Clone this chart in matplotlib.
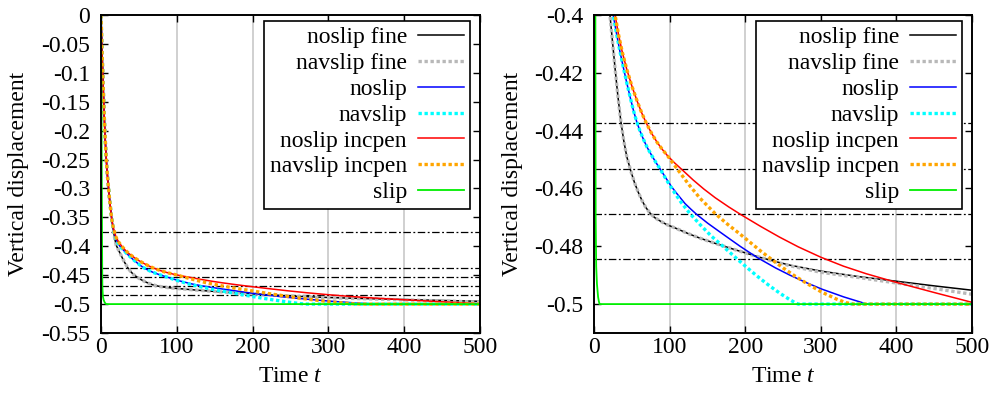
import matplotlib
matplotlib.use('Agg')
import matplotlib.pyplot as plt
from matplotlib.ticker import FixedLocator, FixedFormatter

plt.rcParams['font.family'] = ['Liberation Serif', 'DejaVu Serif']
plt.rcParams['mathtext.fontset'] = 'custom'
plt.rcParams['mathtext.rm'] = 'Liberation Serif'
plt.rcParams['mathtext.it'] = 'Liberation Serif:italic'
plt.rcParams['font.size'] = 17

# ---------------- data ----------------
# common initial drop (t <= 14) shared by the non-slip runs
head_t = [0, 1, 2, 3, 4, 5, 6, 7, 8, 9, 10, 11, 12, 13, 14]
head_y = [0, -0.045, -0.088, -0.128, -0.165, -0.198, -0.226, -0.25, -0.269, -0.286, -0.30,
          -0.315, -0.327, -0.34, -0.351]

noslip_fine_t = head_t + [15.5, 17, 18.5, 20, 24, 27.5, 31, 35, 39, 43, 48, 53, 58, 63, 68, 74, 80,
                          88, 96, 110, 125, 140, 160, 184, 200, 219, 240, 260, 300, 350, 400, 450, 500]
noslip_fine_y = head_y + [-0.365, -0.378, -0.389, -0.398, -0.409, -0.4185, -0.4275, -0.4365, -0.4435,
                          -0.449, -0.4537, -0.4578, -0.4612, -0.4641, -0.4665, -0.4686, -0.4701,
                          -0.4714, -0.4725, -0.474, -0.4757, -0.4772, -0.479, -0.481, -0.4823,
                          -0.4838, -0.4853, -0.4866, -0.4886, -0.4905, -0.4921, -0.4937, -0.4952]

navslip_fine_t = noslip_fine_t
navslip_fine_y = head_y + [-0.365, -0.378, -0.389, -0.398, -0.409, -0.4185, -0.4275, -0.4365, -0.4435,
                           -0.449, -0.4537, -0.4578, -0.4612, -0.4641, -0.4665, -0.4686, -0.4701,
                           -0.4714, -0.4725, -0.474, -0.4757, -0.4772, -0.479, -0.481, -0.4823,
                           -0.4838, -0.4854, -0.4868, -0.489, -0.4908, -0.4927, -0.4946, -0.4966]

noslip_t = head_t + [15.5, 17, 20, 22.5, 25, 29.6, 34, 38.5, 43, 48, 52, 56, 60, 65, 70, 76, 82, 87,
                     95, 102.5, 110, 120, 128, 135.6, 150, 166, 180, 193, 215, 240, 259, 280, 301,
                     330, 361, 500]
noslip_y = head_y + [-0.364, -0.374, -0.388, -0.395, -0.400, -0.4067, -0.4127, -0.4182, -0.4235,
                     -0.4290, -0.4332, -0.4368, -0.4398, -0.4430, -0.4458, -0.4486, -0.4512, -0.4532,
                     -0.4565, -0.4595, -0.4620, -0.4652, -0.4672, -0.4690, -0.4720, -0.4750,
                     -0.4776, -0.4800, -0.4838, -0.4875, -0.4900, -0.4925, -0.4948, -0.4975, -0.5, -0.5]

navslip_t = head_t + [15.5, 17, 20, 22.5, 25, 29.6, 34, 38.5, 43, 48, 52, 56, 60, 65, 70, 76, 82, 87,
                      95, 105, 116, 127, 140, 155, 169, 181, 193, 205, 215, 228, 240, 250, 259, 265,
                      270, 500]
navslip_y = head_y + [-0.364, -0.374, -0.388, -0.395, -0.400, -0.4067, -0.4127, -0.4182, -0.4235,
                      -0.4290, -0.4332, -0.4368, -0.4398, -0.4430, -0.4458, -0.4486, -0.4512, -0.4532,
                      -0.4568, -0.4610, -0.4652, -0.4688, -0.4725, -0.4765, -0.4797, -0.4825,
                      -0.4853, -0.4880, -0.4902, -0.4929, -0.4952, -0.4970, -0.4985, -0.4994, -0.5, -0.5]

noslip_incpen_t = head_t + [15.5, 17, 20, 24, 27.5, 32, 37, 43, 50, 57, 63, 69, 76, 83, 90, 97, 106,
                            115.7, 131, 145, 160, 178, 195, 220, 245, 270, 300, 330, 360, 400, 450, 500]
noslip_incpen_y = head_y + [-0.363, -0.372, -0.385, -0.394, -0.400, -0.4067, -0.4128, -0.4188,
                            -0.4248, -0.4300, -0.4340, -0.4375, -0.4410, -0.4440, -0.4465, -0.4487,
                            -0.4511, -0.4534, -0.4571, -0.4602, -0.4632, -0.4664, -0.4692, -0.4731,
                            -0.4768, -0.4802, -0.4838, -0.4869, -0.4895, -0.4925, -0.4960, -0.4994]

navslip_incpen_t = head_t + [15.5, 17, 20, 24, 27.5, 32, 37, 43, 50, 57, 63, 69, 76, 83, 90, 97, 104,
                             111, 125, 140, 160, 176, 193, 207, 220, 235, 250, 265, 281, 300, 320,
                             333, 343, 500]
navslip_incpen_y = head_y + [-0.363, -0.372, -0.385, -0.394, -0.400, -0.4067, -0.4128, -0.4188,
                             -0.4248, -0.4300, -0.4340, -0.4375, -0.4410, -0.4440, -0.4465, -0.4487,
                             -0.4512, -0.4537, -0.4586, -0.4634, -0.4687, -0.4723, -0.4758, -0.4788,
                             -0.4816, -0.4846, -0.4875, -0.4902, -0.4928, -0.4957, -0.4982, -0.4995,
                             -0.5, -0.5]

slip_t = [0, 0.5, 1.0, 1.5, 1.8, 2.5, 3.5, 5, 6, 7, 500]
slip_y = [0, -0.13, -0.28, -0.42, -0.47, -0.487, -0.493, -0.4975, -0.499, -0.5, -0.5]

ref_levels = [-0.375, -0.4375, -0.453125, -0.46875, -0.484375]

labels = ['noslip fine', 'navslip fine', 'noslip', 'navslip',
          'noslip incpen', 'navslip incpen', 'slip']

x_ticks = [0, 100, 200, 300, 400, 500]
left_yticks = [0, -0.05, -0.1, -0.15, -0.2, -0.25, -0.3, -0.35, -0.4, -0.45, -0.5, -0.55]
left_ylabels = ['0', '-0.05', '-0.1', '-0.15', '-0.2', '-0.25', '-0.3', '-0.35', '-0.4',
                '-0.45', '-0.5', '-0.55']
right_yticks = [-0.4, -0.42, -0.44, -0.46, -0.48, -0.5]
right_ylabels = ['-0.4', '-0.42', '-0.44', '-0.46', '-0.48', '-0.5']

dot = (0, (1, 0.8))
series = [
    (noslip_fine_t, noslip_fine_y, dict(color='black', lw=1.1, ls='-')),
    (navslip_fine_t, navslip_fine_y, dict(color='#b8b8b8', lw=2.4, ls=dot)),
    (noslip_t, noslip_y, dict(color='#0000ff', lw=1.1, ls='-')),
    (navslip_t, navslip_y, dict(color='#00ffff', lw=2.4, ls=dot)),
    (noslip_incpen_t, noslip_incpen_y, dict(color='#ff0000', lw=1.1, ls='-')),
    (navslip_incpen_t, navslip_incpen_y, dict(color='#ffa500', lw=2.4, ls=dot)),
    (slip_t, slip_y, dict(color='#00ee00', lw=1.3, ls='-')),
]

W, H = 995, 397
fig = plt.figure(figsize=(W / 100, H / 100), dpi=100)

def make_axes(x0, x1, y0, y1):
    return fig.add_axes([x0 / W, 1 - y1 / H, (x1 - x0) / W, (y1 - y0) / H])

panels = [
    (make_axes(101, 480, 15, 333), 101, 379, (-0.55, 0), left_yticks, left_ylabels, 29),
    (make_axes(594.3, 972, 15, 333), 594.3, 377.7, (-0.51, -0.4), right_yticks, right_ylabels, 523),
]

for ax, x0, w, ylim, yt, yl, ylabx in panels:
    ax.set_xlim(0, 500)
    ax.set_ylim(*ylim)
    ax.xaxis.set_major_locator(FixedLocator(x_ticks))
    ax.xaxis.set_major_formatter(FixedFormatter([str(v) for v in x_ticks]))
    ax.yaxis.set_major_locator(FixedLocator(yt))
    ax.yaxis.set_major_formatter(FixedFormatter(yl))
    ax.tick_params(direction='in', top=True, right=True, length=5, width=1.0,
                   labelsize=17)
    ax.tick_params(axis='x', pad=3)
    ax.tick_params(axis='y', pad=8)
    for sp in ax.spines.values():
        sp.set_linewidth(1.4)
    ax.set_axisbelow(True)
    ax.xaxis.grid(True, color='#c8c8c8', lw=1.2)
    for lev in ref_levels:
        ax.axhline(lev, color='black', lw=0.9, ls=(0, (6, 2, 1.5, 2)), zorder=1.5)
    for (t, y, st), lab in zip(series, labels):
        ax.plot(t, y, label=lab, zorder=2, **st)
    ax.set_xlabel('Time $t$', fontsize=17, labelpad=6)
    ax.set_ylabel('Vertical displacement', fontsize=17)
    ax.yaxis.set_label_coords((ylabx - x0) / w, 0.5)
    leg = ax.legend(loc='upper right', bbox_to_anchor=(0.9736, 0.981), markerfirst=False,
                    fancybox=False, edgecolor='black', framealpha=1, fontsize=17,
                    handlelength=1.95, handletextpad=0.47, labelspacing=0.18,
                    borderpad=0.25, borderaxespad=0)
    leg.get_frame().set_linewidth(1.2)
    leg.set_zorder(5)

fig.savefig('out.png', dpi=100)
